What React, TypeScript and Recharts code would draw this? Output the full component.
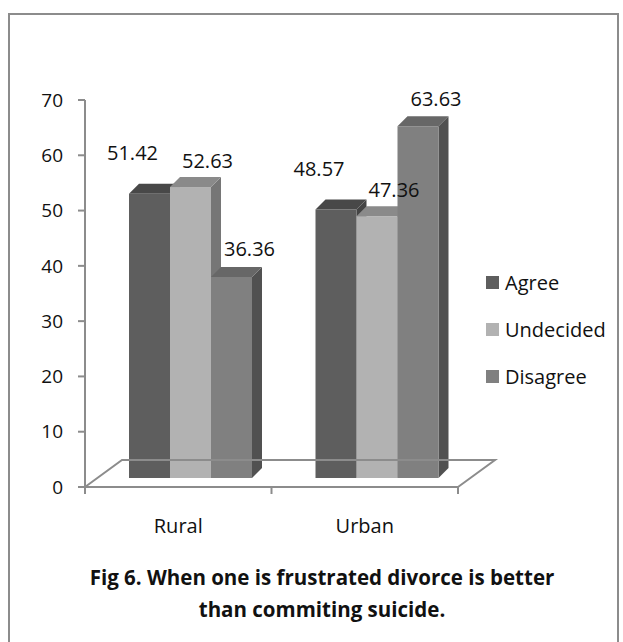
import React from "react";
import { BarChart, Bar, XAxis, YAxis, ReferenceLine, LabelList } from "recharts";

const categories = ["Rural", "Urban"];
const agree = [51.42, 48.57];
const undecided = [52.63, 47.36];
const disagree = [36.36, 63.63];
const yTicks = [0, 10, 20, 30, 40, 50, 60, 70];
const seriesNames = ["Agree", "Undecided", "Disagree"];

const data = categories.map((name, i) => ({
  name,
  Agree: agree[i],
  Undecided: undecided[i],
  Disagree: disagree[i],
}));

const FONT = "'Open Sans', 'DejaVu Sans', sans-serif";
const AXIS = "#8c8c8c";

// bars sit halfway into the floor, so they're pushed back/up from the front axis
const SHIFT_X = 12;
const SHIFT_Y = 9;
// depth of each bar's top and side faces
const DEPTH_X = 10;
const DEPTH_Y = 10;
// full floor depth
const FLOOR_X = 37;
const FLOOR_Y = 27;

const styles: Record<string, { front: string; top: string; side: string; dx: number; dy: number }> = {
  Agree: { front: "#5e5e5e", top: "#484848", side: "#444444", dx: -17, dy: -41 },
  Undecided: { front: "#b2b2b2", top: "#8a8a8a", side: "#767676", dx: 17, dy: -27 },
  Disagree: { front: "#808080", top: "#676767", side: "#515151", dx: 18, dy: -28 },
};

const makeBar = (key: string) => (props: any) => {
  const { x, y, width, height } = props;
  const s = styles[key];
  const fx = x + SHIFT_X;
  const fy = y - SHIFT_Y;
  const fb = fy + height;
  const top = `${fx},${fy} ${fx + width},${fy} ${fx + width + DEPTH_X},${fy - DEPTH_Y} ${fx + DEPTH_X},${fy - DEPTH_Y}`;
  const side = `${fx + width},${fy} ${fx + width + DEPTH_X},${fy - DEPTH_Y} ${fx + width + DEPTH_X},${fb - DEPTH_Y} ${fx + width},${fb}`;
  return (
    <g>
      <polygon points={side} fill={s.side} />
      <polygon points={top} fill={s.top} />
      <rect x={fx} y={fy} width={width} height={height} fill={s.front} />
    </g>
  );
};

const makeLabel = (key: string) => (props: any) => {
  const { x, y, width, value } = props;
  const s = styles[key];
  return (
    <text
      x={x + width / 2 + SHIFT_X + s.dx}
      y={y - SHIFT_Y + s.dy}
      textAnchor="middle"
      dominantBaseline="central"
      fontFamily={FONT}
      fontSize={20}
      fill="#111"
    >
      {Number(value).toFixed(2)}
    </text>
  );
};

// floor outline drawn off the zero line
const Floor = (props: any) => {
  const { x1, x2, y1 } = props;
  const mid = (x1 + x2) / 2;
  const back = `${x1},${y1} ${x1 + FLOOR_X},${y1 - FLOOR_Y} ${x2 + FLOOR_X},${y1 - FLOOR_Y} ${x2},${y1}`;
  return (
    <g>
      <polyline points={back} fill="none" stroke={AXIS} strokeWidth={2} />
      <line x1={x1} y1={y1} x2={x2} y2={y1} stroke={AXIS} strokeWidth={2} />
      {[x1, mid, x2].map((tx, i) => (
        <line key={i} x1={tx} y1={y1} x2={tx} y2={y1 + 7} stroke={AXIS} strokeWidth={2} />
      ))}
    </g>
  );
};

const LegendBox = () => (
  <div
    style={{
      position: "absolute",
      left: 486,
      top: 259,
      fontFamily: FONT,
      fontSize: 20,
      color: "#111",
    }}
  >
    {seriesNames.map((n) => (
      <div key={n} style={{ display: "flex", alignItems: "center", height: 47 }}>
        <span style={{ width: 13, height: 13, background: styles[n].front, marginRight: 6, display: "inline-block" }} />
        <span>{n}</span>
      </div>
    ))}
  </div>
);

export default function App() {
  return (
    <div style={{ position: "absolute", left: 0, top: 0, width: 623, height: 642, overflow: "hidden", background: "#fff" }}>
      <div
        style={{
          position: "absolute",
          left: 8,
          top: 13,
          width: 611,
          height: 660,
          border: `2px solid ${AXIS}`,
          boxSizing: "border-box",
        }}
      />
      <div style={{ position: "absolute", left: 0, top: 0 }}>
        <BarChart
          width={623}
          height={642}
          data={data}
          margin={{ top: 100, right: 165, bottom: 125, left: 40 }}
          barGap={0}
        >
          <XAxis
            dataKey="name"
            axisLine={false}
            tickLine={false}
            tickSize={8}
            tickMargin={24}
            height={30}
            tick={{ fontFamily: FONT, fontSize: 20, fill: "#111" }}
          />
          <YAxis
            domain={[0, 70]}
            ticks={yTicks}
            width={45}
            axisLine={{ stroke: AXIS, strokeWidth: 2 }}
            tickLine={{ stroke: AXIS, strokeWidth: 2 }}
            tickSize={7}
            tickMargin={15}
            tick={{ fontFamily: FONT, fontSize: 19, fill: "#111" }}
          />
          <ReferenceLine y={0} shape={Floor} />
          {seriesNames.map((key) => (
            <Bar key={key} dataKey={key} barSize={41} shape={makeBar(key)} isAnimationActive={false}>
              <LabelList dataKey={key} content={makeLabel(key)} />
            </Bar>
          ))}
        </BarChart>
      </div>
      <LegendBox />
      <div
        style={{
          position: "absolute",
          left: 30,
          width: 584,
          top: 561,
          textAlign: "center",
          fontFamily: FONT,
          fontWeight: 700,
          fontSize: 20.5,
          lineHeight: "32px",
          color: "#111",
        }}
      >
        Fig 6. When one is frustrated divorce is better
        <br />
        than commiting suicide.
      </div>
    </div>
  );
}
